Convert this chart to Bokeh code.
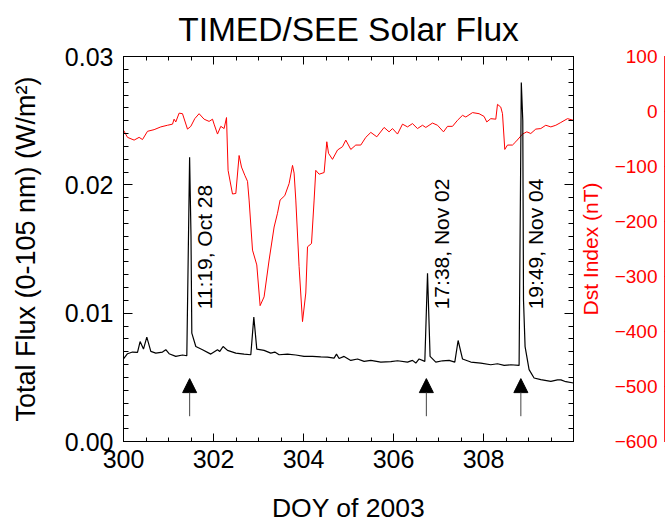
import math
from bokeh.plotting import figure
from bokeh.models import (Range1d, LinearAxis, SingleIntervalTicker, FixedTicker,
                          NumeralTickFormatter, CustomJSTickFormatter, Arrow, NormalHead,
                          ColumnDataSource)
from bokeh.layouts import row
from bokeh.embed import file_html
from bokeh.resources import INLINE
from bokeh.core.properties import value

FONT = "Liberation Sans"

# ---- data ----
flux_doy = [300.000, 300.089, 300.200, 300.311, 300.369, 300.444, 300.518, 300.607, 300.718,
            300.867, 300.940, 301.013, 301.162, 301.311, 301.407, 301.469, 301.500, 301.518,
            301.607, 301.756, 301.940, 302.089, 302.140, 302.213, 302.311, 302.496, 302.680,
            302.829, 302.896, 302.962, 303.124, 303.273, 303.362, 303.458, 303.644, 303.829,
            304.013, 304.200, 304.384, 304.533, 304.680, 304.733, 304.791, 304.902, 305.051,
            305.200, 305.347, 305.496, 305.718, 305.940, 306.089, 306.311, 306.422, 306.496,
            306.569, 306.696, 306.756, 306.813, 306.940, 307.089, 307.236, 307.362, 307.436,
            307.533, 307.718, 307.940, 308.162, 308.311, 308.458, 308.607, 308.791, 308.840,
            308.873, 308.889, 308.924, 309.013, 309.124, 309.273, 309.496, 309.644, 309.720,
            309.830, 310.000]
flux_val = [0.00643, 0.00684, 0.00697, 0.00694, 0.00779, 0.00720, 0.00813, 0.00702, 0.00689,
            0.00697, 0.00715, 0.00684, 0.00663, 0.00674, 0.00668, 0.02214, 0.01600, 0.00845,
            0.00740, 0.00715, 0.00681, 0.00715, 0.00702, 0.00740, 0.00710, 0.00689, 0.00681,
            0.00676, 0.00969, 0.00720, 0.00710, 0.00689, 0.00697, 0.00676, 0.00681, 0.00674,
            0.00663, 0.00663, 0.00660, 0.00658, 0.00650, 0.00681, 0.00647, 0.00663, 0.00632,
            0.00643, 0.00624, 0.00632, 0.00619, 0.00622, 0.00629, 0.00619, 0.00632, 0.00611,
            0.00643, 0.00624, 0.01311, 0.00663, 0.00619, 0.00629, 0.00632, 0.00619, 0.00787,
            0.00643, 0.00619, 0.00611, 0.00598, 0.00606, 0.00593, 0.00598, 0.00593, 0.02797,
            0.02500, 0.01100, 0.00740, 0.00560, 0.00495, 0.00482, 0.00469, 0.00480, 0.00480,
            0.00466, 0.00456]

dst_doy = [300.000, 300.089, 300.236, 300.347, 300.422, 300.533, 300.680, 300.829, 300.978,
           301.089, 301.124, 301.162, 301.236, 301.311, 301.422, 301.496, 301.584, 301.680,
           301.791, 301.902, 301.978, 302.013, 302.089, 302.162, 302.236, 302.289, 302.324,
           302.422, 302.496, 302.569, 302.622, 302.696, 302.756, 302.791, 302.867, 302.962,
           303.036, 303.124, 303.236, 303.347, 303.422, 303.480, 303.584, 303.680, 303.756,
           303.791, 303.829, 303.902, 303.978, 304.051, 304.089, 304.178, 304.236, 304.273,
           304.347, 304.458, 304.518, 304.556, 304.644, 304.756, 304.867, 304.940, 305.051,
           305.162, 305.273, 305.384, 305.496, 305.629, 305.791, 305.902, 305.978, 306.089,
           306.200, 306.311, 306.422, 306.533, 306.644, 306.718, 306.867, 306.978, 307.111,
           307.200, 307.311, 307.422, 307.533, 307.607, 307.756, 307.902, 308.013, 308.073,
           308.162, 308.273, 308.311, 308.384, 308.422, 308.473, 308.533, 308.644, 308.718,
           308.867, 308.962, 309.051, 309.162, 309.273, 309.384, 309.496, 309.607, 309.718,
           309.867, 310.000]
dst_val = [-34, -47, -52, -47, -51, -36, -33, -28, -25,
           -23, -14, -19, -3, -4, -32, -27, -13, -4,
           -14, -18, -14, -23, -41, -27, -31, -11, -107,
           -150, -149, -80, -101, -116, -127, -161, -252, -279,
           -353, -337, -270, -210, -185, -161, -153, -131, -98,
           -112, -161, -282, -382, -330, -246, -240, -161, -107,
           -114, -111, -55, -76, -87, -70, -64, -52, -69,
           -61, -61, -47, -38, -46, -29, -37, -31, -41,
           -23, -28, -22, -31, -25, -29, -21, -25, -37,
           -27, -27, -16, -7, -10, -2, -4, -9, -19,
           -13, -14, 13, 8, -4, -69, -61, -61, -55,
           -41, -37, -40, -32, -31, -25, -28, -25, -20,
           -13, -16]

event_doy = [301.47, 306.73, 308.83]
event_labels = ["11:19, Oct 28", "17:38, Nov 02", "19:49, Nov 04"]
arrow_base = [0.00197, 0.00197, 0.00197]
arrow_tip = [0.0049, 0.0049, 0.0049]
label_y = [0.0103, 0.0103, 0.0103]
x_ticks = [300, 302, 304, 306, 308]
x_minor = [300.5, 301, 301.5, 302.5, 303, 303.5, 304.5, 305, 305.5,
           306.5, 307, 307.5, 308.5, 309, 309.5]
dst_ticks = [-600, -500, -400, -300, -200, -100, 0, 100]

H = 525

# ---- main figure ----
p = figure(width=578, height=H, x_range=Range1d(300, 310), y_range=Range1d(0, 0.03),
           output_backend="svg", toolbar_location=None,
           min_border_left=123, min_border_right=5, min_border_top=56, min_border_bottom=83,
           title="TIMED/SEE Solar Flux", x_axis_label="DOY of 2003",
           y_axis_label="Total Flux (0-105 nm) (W/m²)")
p.extra_y_ranges = {"dst": Range1d(-600, 100)}
p.grid.visible = False
p.outline_line_color = "black"
p.outline_line_alpha = 1.0
p.background_fill_color = "white"
p.border_fill_color = "white"

p.title.text_font = FONT
p.title.text_font_size = "33.5px"
p.title.text_font_style = "normal"
p.title.text_color = "black"
p.title.align = "center"
p.title.vertical_align = "top"
p.title.standoff = 14

blank = CustomJSTickFormatter(code="return ''")

def style_axis(ax, tin, tmin, fs="25px", show=True):
    ax.major_tick_in = tin
    ax.major_tick_out = 0
    ax.minor_tick_in = tmin
    ax.minor_tick_out = 0
    ax.axis_line_color = "black"
    ax.major_tick_line_color = "black"
    ax.minor_tick_line_color = "black"
    ax.major_label_text_font = FONT
    ax.major_label_text_color = "black"
    if show:
        ax.major_label_text_font_size = fs
    else:
        ax.formatter = blank
        ax.major_label_text_font_size = "1px"
        ax.major_label_standoff = 0

bx = p.xaxis[0]
bx.ticker = FixedTicker(ticks=x_ticks, minor_ticks=x_minor)
style_axis(bx, 8, 4)
bx.major_label_standoff = 8
bx.axis_label_standoff = 22
bx.axis_label_text_font = FONT
bx.axis_label_text_font_size = "26.5px"
bx.axis_label_text_font_style = "normal"
bx.axis_label_text_color = "black"

ly = p.yaxis[0]
ly.ticker = SingleIntervalTicker(interval=0.01, num_minor_ticks=10)
ly.formatter = NumeralTickFormatter(format="0.00")
style_axis(ly, 9, 5)
ly.major_label_standoff = 10
ly.axis_label_standoff = 21
ly.axis_label_text_font = FONT
ly.axis_label_text_font_size = "27px"
ly.axis_label_text_font_style = "normal"
ly.axis_label_text_color = "black"

top = LinearAxis(ticker=FixedTicker(ticks=x_ticks, minor_ticks=x_minor))
style_axis(top, 8, 4, show=False)
p.add_layout(top, "above")

ry = LinearAxis(ticker=SingleIntervalTicker(interval=0.01, num_minor_ticks=10))
style_axis(ry, 9, 5, show=False)
p.add_layout(ry, "right")

p.line(dst_doy, dst_val, y_range_name="dst", line_color="red", line_width=1)
p.line(flux_doy, flux_val, line_color="black", line_width=1.2)

asrc = ColumnDataSource(dict(x=event_doy, y0=arrow_base, y1=arrow_tip))
p.add_layout(Arrow(x_start="x", y_start="y0", x_end="x", y_end="y1", source=asrc,
                   line_color="#444444", line_width=1,
                   end=NormalHead(size=14, fill_color="black", line_color="black", line_width=1)))

tsrc = ColumnDataSource(dict(x=event_doy, y=label_y, t=event_labels))
p.text(x="x", y="y", text="t", source=tsrc, angle=math.pi / 2, x_offset=15,
       text_align="left", text_baseline="middle", text_font=value(FONT),
       text_font_size="21px", text_color="black")

# ---- Dst axis panel ----
d = figure(width=87, height=H, x_range=Range1d(0, 1), y_range=p.extra_y_ranges["dst"],
           output_backend="svg", toolbar_location=None, x_axis_location=None,
           min_border_left=79, min_border_right=1, min_border_top=56, min_border_bottom=83,
           y_axis_label="Dst Index (nT)")
d.grid.visible = False
d.outline_line_color = "red"
d.outline_line_alpha = 0.6
d.border_fill_color = "white"
dy = d.yaxis[0]
dy.ticker = FixedTicker(ticks=dst_ticks)
dy.major_tick_in = 5
dy.major_tick_out = 0
dy.minor_tick_in = 0
dy.minor_tick_out = 0
dy.axis_line_color = "red"
dy.axis_line_alpha = 0.6
dy.major_tick_line_color = "red"
dy.major_label_text_color = "red"
dy.major_label_text_font = FONT
dy.major_label_text_font_size = "19px"
dy.major_label_standoff = 7
dy.axis_label_text_color = "red"
dy.axis_label_text_font = FONT
dy.axis_label_text_font_size = "21px"
dy.axis_label_text_font_style = "normal"
dy.axis_label_standoff = 10

layout = row(p, d)
open("out.html", "w").write(file_html(layout, INLINE))
